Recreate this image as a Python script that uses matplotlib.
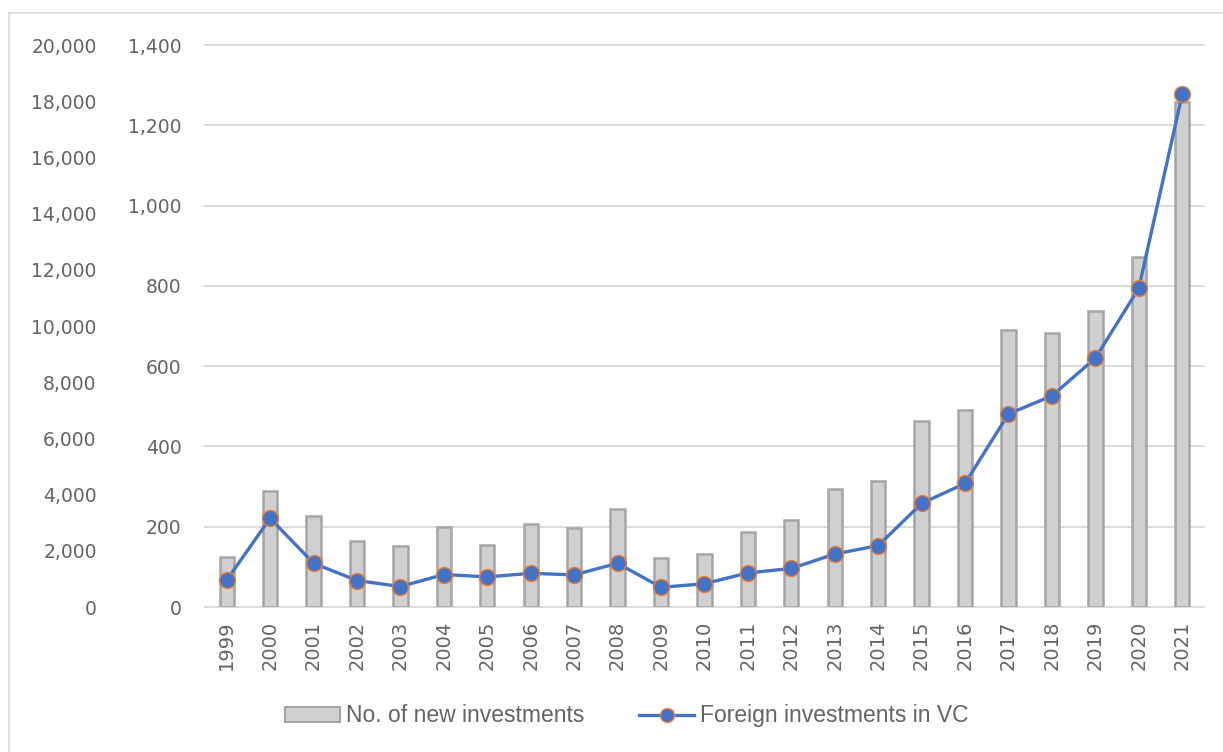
import matplotlib
matplotlib.use("Agg")
import matplotlib.pyplot as plt
import matplotlib.transforms as mtransforms
from matplotlib.lines import Line2D
from matplotlib.patches import Rectangle
import numpy as np

# 数据
years = [str(y) for y in range(1999, 2022)]
new_investments = [1770, 4130, 3240, 2340, 2170, 2850, 2210, 2940, 2820, 3490,
                   1730, 1900, 2680, 3110, 4200, 4500, 6630, 7000, 9850, 9750,
                   10550, 12470, 17960]
foreign_vc = [67, 221, 109, 66, 51, 81, 75, 84, 80, 109,
              49, 58, 85, 96, 132, 153, 258, 308, 481, 526,
              620, 794, 1277]

bar_ticks = np.arange(0, 20001, 2000)
line_ticks = np.arange(0, 1401, 200)

grey_txt = '#636363'
grid_c = '#d9d9d9'

fig = plt.figure(figsize=(12.23, 7.52), dpi=100)
ax_bar = fig.add_axes([0.1676, 0.1928, 0.8168, 0.7473])
ax_line = ax_bar.twinx()

x = np.arange(len(years))

# 柱状图（外侧轴 0-20,000）
ax_bar.bar(x, new_investments, width=0.33, color='#d0d0d0',
           edgecolor='#a5a5a5', linewidth=1.8, zorder=3)
ax_bar.set_ylim(0, 20000)
ax_bar.set_xlim(-0.5, len(years) - 0.5)
ax_bar.set_yticks(bar_ticks)
ax_bar.set_yticklabels([f'{v:,}' for v in bar_ticks])
ax_bar.tick_params(axis='y', length=0, pad=78, labelsize=13.5, labelcolor=grey_txt)
ax_bar.set_xticks(x)
ax_bar.set_xticklabels(years, rotation=90)
ax_bar.tick_params(axis='x', length=0, pad=10, labelsize=14, labelcolor=grey_txt)

# 网格线按内侧轴 (0-1,400) 画在柱子后面
trans = mtransforms.blended_transform_factory(ax_bar.transAxes, ax_line.transData)
for v in line_ticks:
    ax_bar.plot([0, 1], [v, v], transform=trans, color=grid_c, lw=1.3,
                zorder=1, clip_on=False)

# 折线图（内侧轴 0-1,400）
ax_line.plot(x, foreign_vc, color='#4472c4', lw=2.4, marker='o', markersize=11.5,
             markerfacecolor='#4472c4', markeredgecolor='#ed7d31',
             markeredgewidth=1.0, zorder=5)
ax_line.set_ylim(0, 1400)
ax_line.set_yticks(line_ticks)
ax_line.set_yticklabels([f'{v:,}' for v in line_ticks])
ax_line.yaxis.set_ticks_position('left')
ax_line.yaxis.set_label_position('left')
ax_line.tick_params(axis='y', length=0, pad=17, labelsize=13.5, labelcolor=grey_txt)

for a in (ax_bar, ax_line):
    for s in a.spines.values():
        s.set_visible(False)

# 外框
fig.add_artist(Line2D([9 / 1223, 9 / 1223], [0, 1 - 13 / 752],
                      transform=fig.transFigure, color=grid_c, lw=1.2))
fig.add_artist(Line2D([9 / 1223, 1], [1 - 13 / 752, 1 - 13 / 752],
                      transform=fig.transFigure, color=grid_c, lw=1.2))

# 图例
handles = [
    Rectangle((0, 0), 1, 1, facecolor='#d0d0d0', edgecolor='#a5a5a5', linewidth=1.5),
    Line2D([], [], color='#4472c4', lw=2.4, marker='o', markersize=10,
           markerfacecolor='#4472c4', markeredgecolor='#ed7d31', markeredgewidth=1.0),
]
fig.legend(handles, ['No. of new investments', 'Foreign investments in VC'],
           loc='center', bbox_to_anchor=(0.5125, 0.048), ncol=2, frameon=False,
           handlelength=2.4, handleheight=0.65, handletextpad=0.25, columnspacing=2.4,
           prop={'family': 'Liberation Sans', 'size': 16.5},
           labelcolor=grey_txt)

fig.savefig('out.png', dpi=100, facecolor='white')
